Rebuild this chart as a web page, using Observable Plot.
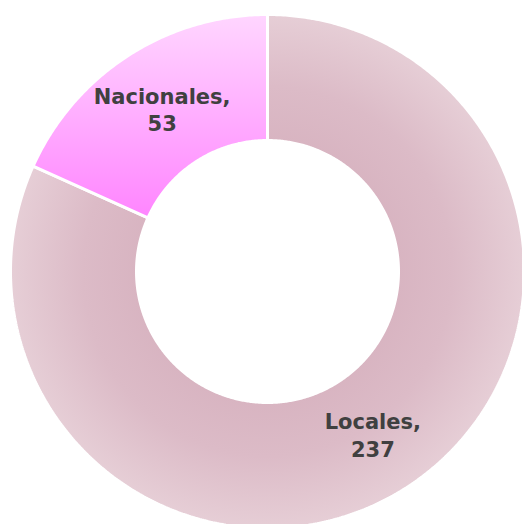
<!DOCTYPE html>
<html>
<head>
<meta charset="utf-8">
<script src="https://cdn.jsdelivr.net/npm/d3@7"></script>
<script src="https://cdn.jsdelivr.net/npm/@observablehq/plot@0.6"></script>
<style>
  html, body { margin: 0; padding: 0; background: #fff; }
</style>
</head>
<body>
<div id="chart"></div>
<script>
const categories = ["Locales", "Nacionales"];
const values = [237, 53];

const W = 522, H = 524;
const CX = 267, CY = 271, R = 257;
const INNER = 131 / 257;

const pie = d3.pie().sort(null).value(d => d.value)(categories.map((c, i) => ({category: c, value: values[i]})));

const rows = [];
for (const p of pie) {
  const a0 = p.startAngle, a1 = p.endAngle;
  const n = Math.max(2, Math.ceil((a1 - a0) / (Math.PI / 360)));
  const pts = [];
  for (let k = 0; k <= n; k++) { const a = a0 + (a1 - a0) * k / n; pts.push([Math.sin(a), Math.cos(a)]); }
  for (let k = n; k >= 0; k--) { const a = a0 + (a1 - a0) * k / n; pts.push([INNER * Math.sin(a), INNER * Math.cos(a)]); }
  pts.push(pts[0]);
  pts.forEach(([x, y], j) => rows.push({category: p.data.category, x, y, j}));
}

const labels = pie.map(p => {
  const a = (p.startAngle + p.endAngle) / 2;
  const r = (1 + INNER) / 2;
  return {text: `${p.data.category},\n${p.data.value}`, x: r * Math.sin(a), y: r * Math.cos(a) + 0.0};
});

const fills = {Locales: "url(#gradLocales)", Nacionales: "url(#gradNacionales)"};

const chart = Plot.plot({
  width: W, height: H,
  margin: 0,
  x: {domain: [-CX / R, (W - CX) / R], axis: null},
  y: {domain: [-(H - CY) / R, CY / R], axis: null},
  marks: [
    ...categories.map(c => Plot.line(rows.filter(d => d.category === c), {
      x: "x", y: "y", fill: fills[c], stroke: "white", strokeWidth: 3, strokeLinejoin: "miter"
    })),
    Plot.text(labels, {
      x: "x", y: "y", text: "text",
      fontFamily: "DejaVu Sans", fontWeight: "bold", fontSize: 21,
      lineHeight: 1.33, fill: "#404040"
    })
  ]
});

const sx = chart.scale("x"), sy = chart.scale("y");
const svg = d3.select(chart);
const defs = svg.insert("defs", ":first-child");
const rg = defs.append("radialGradient").attr("id", "gradLocales")
  .attr("gradientUnits", "userSpaceOnUse")
  .attr("cx", sx.apply(0)).attr("cy", sy.apply(0)).attr("r", sx.apply(1) - sx.apply(0));
[[0.5, "#d8b4c1"], [0.72, "#dcbbc7"], [1, "#e6ced6"]].forEach(([o, c]) => rg.append("stop").attr("offset", o).attr("stop-color", c));
const lg = defs.append("linearGradient").attr("id", "gradNacionales")
  .attr("x1", 0).attr("y1", 0).attr("x2", 0).attr("y2", 1);
[[0, "#ffd6ff"], [1, "#ff85ff"]].forEach(([o, c]) => lg.append("stop").attr("offset", o).attr("stop-color", c));

document.getElementById("chart").appendChild(chart);
</script>
</body>
</html>
